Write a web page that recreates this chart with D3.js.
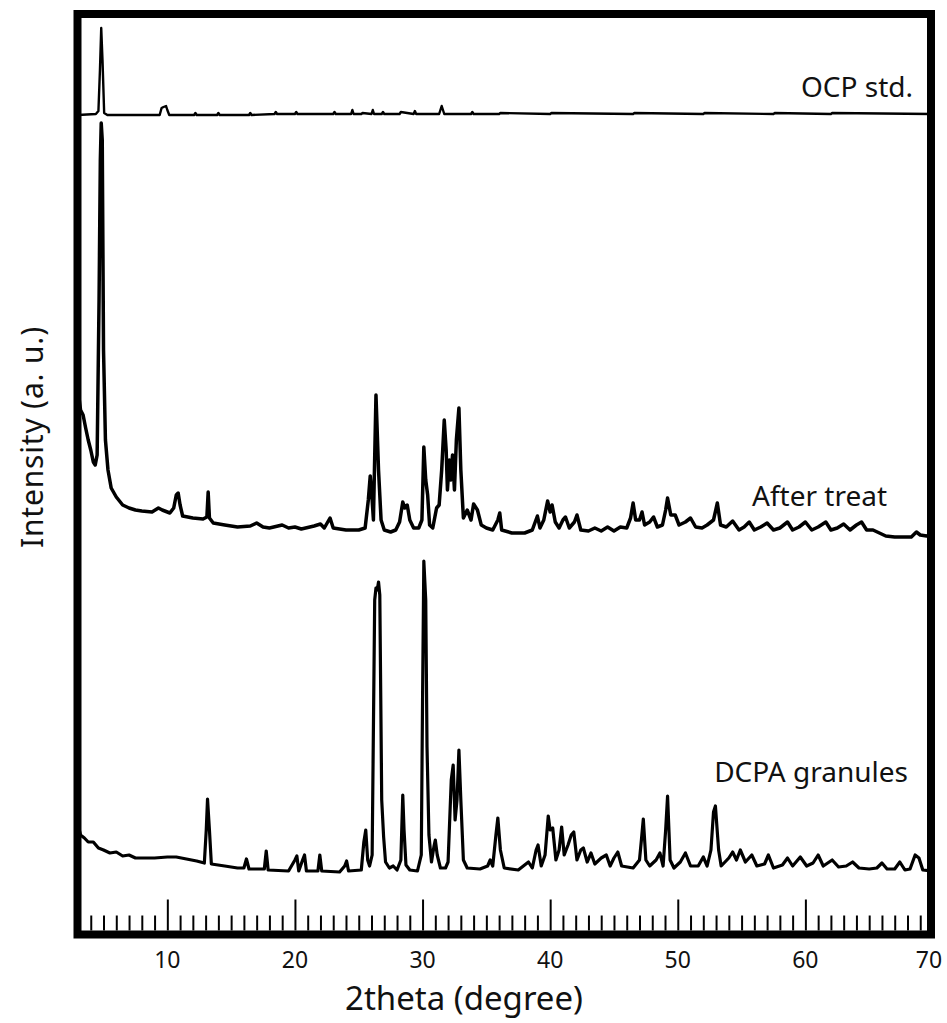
<!DOCTYPE html>
<html>
<head>
<meta charset="utf-8">
<script src="https://cdn.jsdelivr.net/npm/d3@7"></script>
<style>
  html, body { margin: 0; padding: 0; background: #fff; }
  svg { display: block; }
  text { font-family: "Noto Sans", "Open Sans", sans-serif; fill: #111; }
</style>
</head>
<body>
<svg id="chart" width="947" height="1023"></svg>
<script>
// XRD patterns, offset-stacked intensities (a.u.) vs 2theta (degree)
const seriesNames = ["DCPA granules", "After treat", "OCP std."];

const dcpaTheta = [3.0,3.2,3.5,3.8,4.2,4.6,5.0,5.5,6.0,6.5,7.0,7.5,8.0,9.0,10.0,10.7,11.5,12.3,12.9,13.05,13.15,13.3,13.45,14.5,15.5,16.0,16.2,16.4,17.0,17.6,17.75,17.9,19.5,20.0,20.15,20.3,20.6,20.75,20.9,21.8,21.95,22.1,23.5,23.9,24.05,24.2,25.2,25.4,25.55,25.7,25.85,26.05,26.25,26.35,26.45,26.55,26.65,26.8,26.95,27.1,27.4,27.7,28.0,28.3,28.45,28.55,28.7,29.0,29.6,29.9,30.0,30.1,30.25,30.35,30.5,30.7,30.9,31.0,31.15,31.4,31.8,32.0,32.25,32.4,32.55,32.7,32.85,33.0,33.2,33.5,34.5,35.1,35.3,35.5,35.75,35.9,36.1,36.4,37.5,38.3,38.6,38.9,39.05,39.3,39.6,39.85,40.0,40.2,40.45,40.7,40.9,41.1,41.4,41.65,41.85,42.1,42.4,42.6,42.9,43.2,43.5,44.0,44.4,44.7,45.0,45.3,45.6,46.5,47.0,47.15,47.3,47.5,47.8,48.3,48.6,48.85,49.05,49.2,49.4,49.7,50.2,50.6,51.0,51.6,52.0,52.3,52.6,52.8,52.95,53.2,53.4,54.0,54.3,54.6,54.9,55.3,55.8,56.2,56.8,57.1,57.5,58.2,58.6,59.0,59.6,60.1,60.6,61.0,61.4,62.1,62.6,63.2,63.7,64.2,65.0,65.6,66.0,66.4,67.0,67.4,67.8,68.2,68.6,68.9,69.2,70.0];
const dcpaIntensity = [10.9,9.9,9.6,9.2,9.2,8.6,8.4,8.1,8.2,7.8,7.9,7.6,7.6,7.6,7.7,7.7,7.5,7.3,7.1,10.4,13.5,10.4,7.0,6.8,6.6,6.6,7.5,6.5,6.5,6.5,8.3,6.4,6.3,7.4,7.8,6.3,7.4,7.9,6.3,6.3,7.9,6.3,6.2,6.8,7.3,6.3,6.4,9.2,10.4,7.4,6.8,7.9,33.4,34.6,34.4,35.2,33.9,13.4,9.7,7.2,6.6,6.8,6.4,7.4,13.9,10.4,6.9,6.4,6.3,7.9,23.4,37.3,33.4,18.7,9.9,7.2,8.8,9.4,7.9,6.6,6.6,7.2,15.4,16.9,11.4,13.4,18.4,13.4,7.4,6.6,6.5,6.8,7.4,6.8,9.9,11.6,8.4,6.6,6.4,7.2,6.6,8.4,8.9,6.8,7.9,11.8,10.4,10.6,7.4,8.4,10.7,7.9,8.9,9.9,10.2,7.4,8.4,8.6,7.2,8.1,7.0,7.6,7.9,6.8,7.6,8.2,6.8,6.6,7.4,9.4,11.5,7.4,6.8,7.4,8.1,6.8,10.4,13.8,7.4,6.6,7.2,8.1,6.8,6.8,7.7,6.8,8.4,12.2,12.8,8.4,6.8,7.6,8.2,7.4,8.4,7.2,7.9,6.8,7.0,7.9,6.6,6.9,7.6,6.8,7.7,6.8,7.1,7.9,6.8,7.4,6.7,6.8,7.2,6.6,6.5,6.6,7.1,6.5,6.5,7.2,6.4,6.5,7.9,7.6,6.4,6.3];

const afterTheta = [3.0,3.1,3.2,3.4,3.6,3.8,4.0,4.2,4.35,4.5,4.65,4.75,4.82,4.9,5.0,5.15,5.35,5.6,6.0,6.5,7.0,7.5,8.0,8.8,9.3,9.6,10.2,10.5,10.7,10.85,11.0,11.2,12.0,12.8,13.1,13.2,13.3,13.6,14.5,15.5,16.5,17.0,17.5,18.0,19.0,19.5,20.0,20.5,21.5,22.0,22.3,22.75,23.0,23.5,24.0,25.0,25.5,25.75,25.9,26.05,26.15,26.35,26.55,26.75,27.0,27.5,27.9,28.2,28.45,28.6,28.8,29.0,29.3,29.7,29.95,30.1,30.25,30.4,30.55,30.8,31.1,31.3,31.5,31.7,31.85,31.95,32.1,32.2,32.35,32.5,32.65,32.85,33.0,33.2,33.5,33.8,34.0,34.3,34.6,35.0,35.5,35.9,36.05,36.2,37.0,38.0,38.6,39.0,39.2,39.5,39.8,40.0,40.15,40.4,40.7,41.0,41.2,41.5,41.9,42.1,42.4,43.0,43.5,44.0,44.5,45.0,45.5,46.0,46.3,46.5,46.7,47.0,47.2,47.4,47.8,48.1,48.4,48.8,49.05,49.2,49.45,49.8,50.1,50.6,51.0,51.4,51.9,52.3,52.8,53.1,53.35,53.8,54.3,54.8,55.2,55.6,56.0,56.5,57.0,57.5,58.0,58.6,59.0,59.5,60.0,60.5,61.0,61.6,62.0,62.5,63.0,63.5,64.0,64.4,64.8,65.3,65.8,66.3,67.0,67.8,68.3,68.7,69.0,69.5,70.0];
const afterIntensity = [54.4,53.4,52.4,51.9,50.6,49.4,48.4,47.2,46.9,47.9,63.4,77.4,81.1,79.4,58.4,49.4,46.4,44.6,43.7,42.9,42.6,42.4,42.3,42.2,42.6,42.4,42.1,42.6,43.9,44.1,42.9,41.8,41.6,41.5,41.7,44.2,41.6,41.1,40.9,40.7,40.8,41.1,40.7,40.6,40.9,40.6,40.7,40.5,40.8,41.0,40.6,41.6,40.6,40.5,40.4,40.4,40.6,43.4,45.8,43.4,41.4,53.9,46.4,41.4,40.4,40.2,40.4,41.2,43.2,42.6,42.9,41.4,40.6,40.6,41.4,48.7,45.4,43.9,40.9,40.6,42.6,42.9,46.4,51.4,48.4,44.4,47.4,45.4,47.9,44.4,49.4,52.6,46.4,41.6,42.4,41.4,43.0,42.4,40.9,40.6,40.4,41.4,42.1,40.4,40.1,40.1,40.4,41.8,40.6,41.4,43.3,42.2,42.9,41.2,40.6,41.4,41.7,40.6,41.2,41.9,40.4,40.3,40.6,40.3,40.7,40.3,40.7,40.6,41.6,43.1,41.4,41.4,42.2,40.9,41.2,41.7,40.7,40.9,42.4,43.6,41.9,41.9,40.9,41.2,41.6,40.7,40.6,40.9,41.4,43.1,40.9,40.7,41.3,40.4,40.7,41.2,40.4,40.7,41.1,40.4,40.6,41.2,40.4,40.7,41.2,40.4,40.7,41.2,40.4,40.6,41.0,40.4,40.9,41.2,40.4,40.4,40.1,39.8,39.7,39.7,39.7,40.2,39.9,39.8,40.1];

const ocpTheta = [3.0,4.4,4.6,4.72,4.82,4.92,5.05,5.3,9.4,9.55,9.7,9.9,10.0,10.15,12.1,12.2,12.3,13.9,14.0,14.1,16.4,16.5,16.6,18.4,18.5,18.6,20.0,20.1,20.2,23.0,23.1,23.2,24.4,24.5,24.6,25.2,25.3,26.0,26.1,26.2,26.8,26.9,27.0,28.2,28.3,29.3,29.4,29.5,31.3,31.5,31.7,32.0,33.8,33.9,34.0,36.0,36.1,40.0,40.1,46.5,46.6,52.0,52.1,57.5,57.6,62.0,62.1,70.0];
const ocpIntensity = [81.9,82.0,82.3,86.4,90.6,87.4,82.1,81.9,81.9,82.6,82.7,82.8,82.4,81.9,81.9,82.1,81.9,81.9,82.1,81.9,81.9,82.1,81.9,82.0,82.2,82.0,82.0,82.2,82.0,82.0,82.2,82.0,82.0,82.4,82.0,82.0,82.1,82.0,82.4,82.0,82.0,82.2,82.0,82.0,82.2,82.0,82.3,82.0,82.0,82.8,82.0,82.0,82.0,82.2,82.0,82.0,82.1,82.0,82.1,82.0,82.1,82.0,82.1,82.0,82.1,82.0,82.1,82.0];

const majorTicks = [10, 20, 30, 40, 50, 60, 70];

const frame = { left: 77.5, right: 931, top: 14, bottom: 934.5 };
const border = 8;

const svg = d3.select("#chart");

const x = d3.scaleLinear().domain([3, 70]).range([78, 933]);
const y = d3.scaleLinear().domain([0, 92]).range([934, 14]);

svg.append("defs").append("clipPath").attr("id", "plot-clip")
  .append("rect")
  .attr("x", frame.left).attr("y", frame.top)
  .attr("width", frame.right - frame.left)
  .attr("height", frame.bottom - frame.top);

const traces = [
  { name: seriesNames[0], theta: dcpaTheta, inten: dcpaIntensity, width: 3.2 },
  { name: seriesNames[1], theta: afterTheta, inten: afterIntensity, width: 3.5 },
  { name: seriesNames[2], theta: ocpTheta, inten: ocpIntensity, width: 2.4 }
];

const line = d3.line()
  .x(d => x(d[0]))
  .y(d => y(d[1]));

const plot = svg.append("g").attr("clip-path", "url(#plot-clip)");
plot.selectAll("path.trace")
  .data(traces)
  .join("path")
  .attr("class", "trace")
  .attr("fill", "none")
  .attr("stroke", "#000")
  .attr("stroke-width", d => d.width)
  .attr("stroke-linejoin", "round")
  .attr("d", d => line(d.theta.map((t, i) => [t, d.inten[i]])));

// inward ticks along the bottom edge: 1-degree minor, 10-degree major
const innerBottom = frame.bottom - border / 2;
const minorTicks = d3.range(4, 70).filter(v => !majorTicks.includes(v));
const xAxisMinor = d3.axisBottom(x).tickValues(minorTicks).tickSize(-15).tickFormat("");
const xAxisMajor = d3.axisBottom(x).tickValues(majorTicks.filter(v => v < 70)).tickSize(-31).tickFormat("");

[xAxisMinor, xAxisMajor].forEach(ax => {
  const g = svg.append("g").attr("transform", `translate(0,${innerBottom})`).call(ax);
  g.select(".domain").remove();
  g.selectAll("line").attr("stroke", "#000").attr("stroke-width", 2);
});

// tick labels
svg.append("g").selectAll("text")
  .data(majorTicks)
  .join("text")
  .attr("x", d => d === 70 ? x(d) - 4 : x(d))
  .attr("y", 968)
  .attr("text-anchor", "middle")
  .attr("font-size", 23)
  .text(d => d);

// frame
svg.append("rect")
  .attr("x", frame.left).attr("y", frame.top)
  .attr("width", frame.right - frame.left)
  .attr("height", frame.bottom - frame.top)
  .attr("fill", "none")
  .attr("stroke", "#000")
  .attr("stroke-width", border);

// axis titles
svg.append("text")
  .attr("x", 464).attr("y", 1010)
  .attr("text-anchor", "middle")
  .attr("font-size", 33)
  .text("2theta (degree)");

svg.append("text")
  .attr("transform", "translate(43,437) rotate(-90)")
  .attr("text-anchor", "middle")
  .attr("font-size", 30)
  .attr("letter-spacing", 0.8)
  .text("Intensity (a. u.)");

// series labels
const labelPos = [
  { text: seriesNames[0], x: 908, y: 782 },
  { text: seriesNames[1], x: 887, y: 506 },
  { text: seriesNames[2], x: 913, y: 97 }
];
svg.append("g").selectAll("text")
  .data(labelPos)
  .join("text")
  .attr("x", d => d.x).attr("y", d => d.y)
  .attr("text-anchor", "end")
  .attr("font-size", 28)
  .text(d => d.text);
</script>
</body>
</html>
